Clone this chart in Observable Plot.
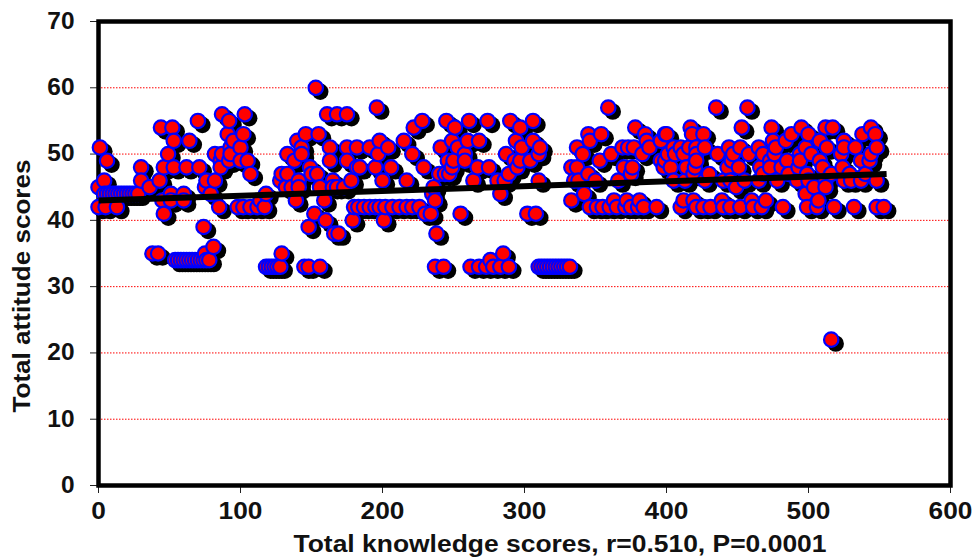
<!DOCTYPE html>
<html>
<head>
<meta charset="utf-8">
<script src="https://cdn.jsdelivr.net/npm/d3@7"></script>
<script src="https://cdn.jsdelivr.net/npm/@observablehq/plot@0.6"></script>
<style>
html,body{margin:0;padding:0;background:#fff;overflow:hidden}
svg{display:block}
</style>
</head>
<body>
<div id="chart"></div>
<script>
const y60=[153];
const y57=[196,359,435,457];
const y56=[87,103,161,168,175];
const y55=[70,92,228,245,261,274,290,306];
const y54=[44,52,222,251,297,378,417,453,474,495,512,517,544];
const y53=[91,102,146,155,345,354,385,399,400,418,426,488,500,538,547];
const y52=[53,64,95,140,198,215,249,260,268,294,306,346,386,396,475,484,508,525];
const y51=[1,93,100,143,163,175,182,191,204,241,253,298,311,337,369,373,377,388,405,410,416,421,427,444,452,465,477,498,513,525,533,548];
const y50=[49,82,87,93,133,143,197,221,258,287,310,341,361,383,401,406,412,421,436,447,458,468,476,494,502,523,544];
const y49=[6,86,92,100,105,138,163,175,246,250,258,293,297,304,353,396,399,421,446,473,485,494,508,537,543];
const y48=[30,46,53,62,71,86,149,182,184,195,206,229,249,267,275,295,333,337,370,376,398,403,414,420,443,451,466,473,481,493,510,524];
const y47=[107,129,133,150,154,240,244,247,289,345,375,419,430,468,486,499,516,529,540];
const y46=[4,30,43,76,82,128,141,165,178,200,217,264,281,286,310,335,338,350,366,405,413,427,440,445,455,465,478,492,500,512,525,530,537,548];
const y45=[0,36,75,132,136,141,156,165,168,173,236,449,504,512];
const y44=[4,6,8,10,12,14,16,18,20,22,24,26,28,51,60,79,118,235,283,342,498];
const y43=[45,51,60,114,139,159,237,333,363,372,381,412,419,439,460,470,507];
const y42=[0,5,13,85,98,102,107,112,117,180,183,187,191,195,198,202,207,212,217,221,226,346,351,355,360,365,371,375,380,384,393,410,421,426,431,440,445,452,461,467,482,499,506,518,532,548,553];
const y41=[46,152,230,234,255,302,308];
const y40=[160,179,201];
const y39=[74,148];
const y38=[166,169,238];
const y36=[81];
const y35=[38,42,75,129,285];
const y34=[54,56,58,60,62,64,66,68,70,72,74,76,78,276];
const y33=[118,120,122,124,126,128,145,148,156,237,243,262,268,273,278,283,289,310,312,314,316,318,320,322,324,326,328,330,332];
const y22=[516];

const levels=[[60,y60],[57,y57],[56,y56],[55,y55],[54,y54],[53,y53],[52,y52],[51,y51],[50,y50],[49,y49],[48,y48],[47,y47],[46,y46],[45,y45],[44,y44],[43,y43],[42,y42],[41,y41],[40,y40],[39,y39],[38,y38],[36,y36],[35,y35],[34,y34],[33,y33],[22,y22]];
const points=levels.flatMap(([y,xs])=>xs.map(x=>({x,y}))).sort((a,b)=>a.x-b.x);
const trend=[{x:0,y:43},{x:555,y:47}];
const gridValues=[10,20,30,40,50,60];
const xTicks=[0,100,200,300,400,500,600];
const yTicks=[0,10,20,30,40,50,60,70];

const plot=Plot.plot({
  width:975,height:557,
  marginLeft:98,marginRight:25,marginTop:21,marginBottom:72,
  style:{fontFamily:"'Liberation Sans',Arial,sans-serif",background:"#fff",overflow:"hidden"},
  x:{domain:[0,600]},
  y:{domain:[0,70]},
  marks:[
    Plot.ruleY(gridValues,{stroke:"#f00",strokeWidth:1,strokeDasharray:"1.5 1.5"}),
    Plot.axisX({ticks:xTicks,tickSize:8,tickPadding:9,stroke:"#222",fontSize:23,fontWeight:"bold",fill:"#111",label:"Total knowledge scores, r=0.510, P=0.0001",labelAnchor:"center",labelArrow:"none"}),
    Plot.axisY({ticks:yTicks,tickSize:8,tickPadding:16,stroke:"#222",fontSize:23,fontWeight:"bold",fill:"#111",label:"Total attitude scores",labelAnchor:"center",labelArrow:"none"}),
    Plot.frame({stroke:"#000",strokeWidth:4.5}),
    Plot.dot(points,{x:"x",y:"y",r:8.2,fill:"#000",dx:4.5,dy:4}),
    Plot.dot(points,{x:"x",y:"y",r:7.2,fill:"#f00",stroke:"#00f",strokeWidth:2.2}),
    Plot.line(trend,{x:"x",y:"y",stroke:"#000",strokeWidth:6,strokeLinecap:"butt"})
  ]
});
const svg=d3.select(plot);
function place(name,transform,length,size){
  svg.selectAll(`g[aria-label='${name}']`).attr("transform",null);
  svg.selectAll(`g[aria-label='${name}'] text`)
    .attr("x",null).attr("y",null).attr("dy",null)
    .attr("transform",transform)
    .attr("text-anchor","middle")
    .attr("textLength",length).attr("lengthAdjust","spacingAndGlyphs")
    .style("font-size",size).style("font-weight","bold").attr("fill","#111");
}
place("x-axis label","translate(560,552)",533,"23px");
place("y-axis label","translate(30,286) rotate(-90)",253,"24px");
svg.selectAll("g[aria-label='x-axis tick label'] text").each(function(){
  this.setAttribute("textLength",this.textContent.length*14.6);
  this.setAttribute("lengthAdjust","spacingAndGlyphs");
});
svg.selectAll("g[aria-label='y-axis tick label'] text").each(function(){
  this.setAttribute("textLength",this.textContent.length*13.6);
  this.setAttribute("lengthAdjust","spacingAndGlyphs");
});
document.getElementById("chart").append(plot);
</script>
</body>
</html>
